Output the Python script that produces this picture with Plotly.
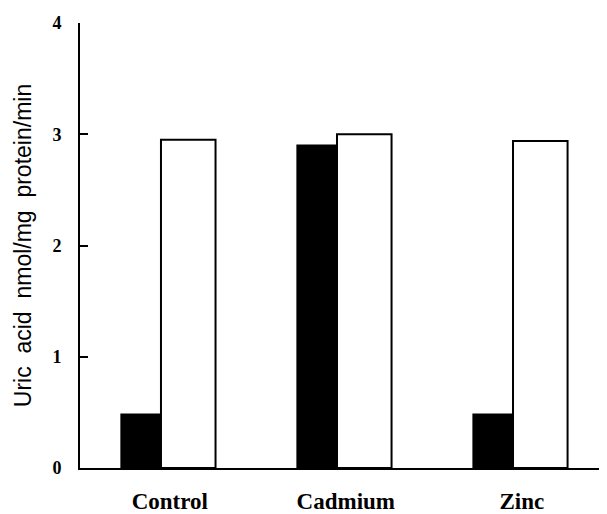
import plotly.graph_objects as go

categories = ["Control", "Cadmium", "Zinc"]
black_vals = [0.48, 2.90, 0.48]
white_vals = [2.95, 3.00, 2.94]
y_ticks = [0, 1, 2, 3, 4]

pos = list(range(len(categories)))

fig = go.Figure()
fig.add_trace(go.Bar(
    x=pos, y=black_vals, offset=-0.225, width=0.225,
    marker=dict(color="black", line=dict(color="black", width=2)),
    showlegend=False))
fig.add_trace(go.Bar(
    x=pos, y=white_vals, offset=0, width=0.31,
    marker=dict(color="white", line=dict(color="black", width=2)),
    showlegend=False))

# page body adds an 8px margin, so the figure is sized/margined to compensate
fig.update_layout(
    width=599, height=506,
    margin=dict(l=72, r=0, t=15, b=46),
    plot_bgcolor="white", paper_bgcolor="white",
    barmode="overlay",
    font=dict(family="Liberation Sans, Arial", color="black"),
)
fig.update_xaxes(
    range=[-0.46, 2.534],
    tickmode="array", tickvals=[p + 0.05 for p in pos], ticktext=categories,
    tickfont=dict(family="Liberation Serif, Times New Roman", size=23, color="black", weight="bold"),
    showline=True, linecolor="black", linewidth=2,
    ticks="", showgrid=False, zeroline=False,
    ticklabelstandoff=11, automargin=False,
)
fig.update_yaxes(
    range=[0, 4],
    tickmode="array", tickvals=y_ticks, ticktext=[str(v) for v in y_ticks],
    tickfont=dict(family="Liberation Serif, Times New Roman", size=18, color="black", weight="bold"),
    showline=True, linecolor="black", linewidth=2,
    ticks="inside", ticklen=8, tickwidth=2, tickcolor="black",
    showgrid=False, zeroline=False,
    ticklabelstandoff=13, automargin=False,
    title=dict(text="Uric\u00a0\u00a0acid\u00a0\u00a0nmol/mg\u00a0\u00a0protein/min",
               font=dict(size=23, color="black"), standoff=14),
)

fig.write_html("out.html")
